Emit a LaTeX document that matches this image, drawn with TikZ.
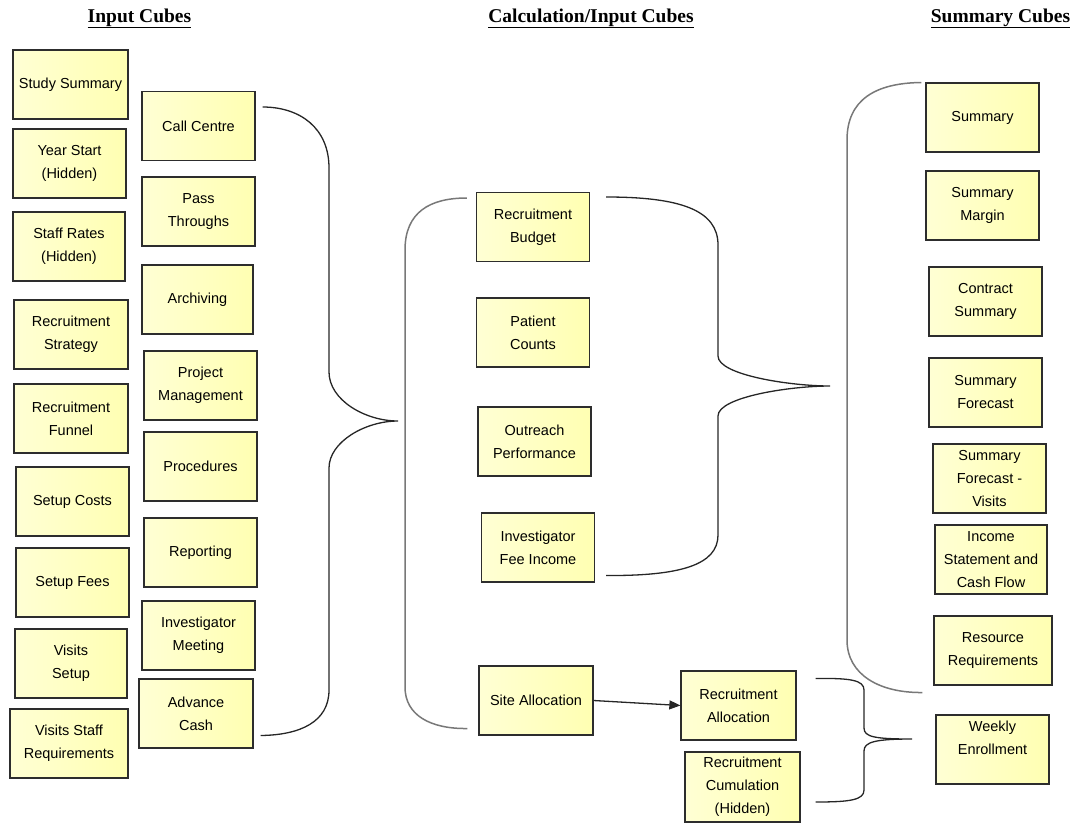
\documentclass[tikz,border=0pt]{standalone}
\usepackage{fontspec}
\setmainfont{Liberation Sans}
\newfontfamily\hdrfont{Liberation Serif}
\usetikzlibrary{arrows.meta,calc}
\definecolor{cubeL}{RGB}{255,255,212}
\definecolor{cubeR}{RGB}{255,255,178}
\definecolor{edge}{RGB}{45,45,45}
\definecolor{brk}{RGB}{120,120,120}
\tikzset{
  cube/.style={draw=edge, line width=1.3pt, left color=cubeL, right color=cubeR,
    minimum width=113pt, minimum height=69pt, inner sep=0pt, align=center,
    font=\fontsize{14.5}{23}\selectfont},
  hdr/.style={anchor=base, font=\hdrfont\bfseries\fontsize{19.5}{22}\selectfont},
  brace/.style={draw=black!85, line width=1.3pt},
  bracket/.style={draw=brk, line width=1.5pt},
  link/.style={draw=black!85, line width=1.3pt, -{Triangle[length=11pt,width=9pt]}}
}
\begin{document}
\begin{tikzpicture}[x=1pt,y=-1pt]
\useasboundingbox (0,0) rectangle (1075,822);
% headers
\node[hdr] (h1) at (139.5,22) {\underline{Input Cubes}};
\node[hdr] (h2) at (591,22) {\underline{Calculation/Input Cubes}};
\node[hdr] (h3) at (1000.5,22) {\underline{Summary Cubes}};
% column 1
\node[cube, minimum width=115pt] (ss) at (70.5,84.5) {Study Summary};
\node[cube] (ys) at (69.5,163.5) {Year Start\\(Hidden)};
\node[cube, minimum width=112pt] (sr) at (69,246.5) {Staff Rates\\(Hidden)};
\node[cube, minimum width=114pt] (rs) at (71,334.5) {Recruitment\\Strategy};
\node[cube, minimum width=114pt] (rf) at (71,418.5) {Recruitment\\Funnel};
\node[cube] (sc) at (72.5,501.5) {Setup Costs};
\node[cube] (sf) at (72.5,582.5) {Setup Fees};
\node[cube, minimum width=112pt] (vs) at (71,663.5) {Visits\\Setup};
\node[cube, minimum width=118pt] (vsr) at (69,743.5) {Visits Staff\\Requirements};
% column 2
\node[cube] (cc) at (198.5,126) {Call Centre};
\node[cube] (pt) at (198.5,211.5) {Pass\\Throughs};
\node[cube, minimum width=111pt] (ar) at (197.5,299.5) {Archiving};
\node[cube] (pm) at (200.5,385.5) {Project\\Management};
\node[cube] (pr) at (200.5,466.5) {Procedures};
\node[cube] (rp) at (200.5,552.5) {Reporting};
\node[cube] (im) at (198.5,635.5) {Investigator\\Meeting};
\node[cube, minimum width=114pt] (ac) at (196,713.5) {Advance\\Cash};
% middle
\node[cube] (rb) at (533,227) {Recruitment\\Budget};
\node[cube] (pc) at (533,332.5) {Patient\\Counts};
\node[cube] (op) at (534.5,441.5) {Outreach\\Performance};
\node[cube] (ifi) at (538,547.5) {Investigator\\Fee Income};
\node[cube, minimum width=114pt] (sa) at (536,700.5) {Site Allocation};
\node[cube, minimum width=115pt] (ra) at (738.5,705.5) {Recruitment\\Allocation};
\node[cube, minimum width=115pt, minimum height=70pt] (rc) at (742.5,787) {Recruitment\\Cumulation\\(Hidden)};
% right
\node[cube] (su) at (982.5,117.5) {Summary};
\node[cube] (sm) at (982.5,205.5) {Summary\\Margin};
\node[cube] (cs) at (985.5,301.5) {Contract\\Summary};
\node[cube] (sfo) at (985.5,392.5) {Summary\\Forecast};
\node[cube] (sfv) at (989.5,478.5) {Summary\\Forecast -\\Visits};
\node[cube, minimum width=112pt] (is) at (991,559.5) {Income\\Statement and\\Cash Flow};
\node[cube, minimum width=118pt] (rr) at (993,650.5) {Resource\\Requirements};
\node[cube] (we) at (992.5,749.5) {Weekly\\Enrollment\\\mbox{}};
% brace coordinates
\coordinate (b1t) at ($(cc.east)+(7,-19)$);
\coordinate (b1m) at (398,421);
\coordinate (b1b) at ($(ac.east)+(7,22)$);
\coordinate (b2t) at ($(rb.west)+(-9,-29)$);
\coordinate (b2b) at ($(sa.west)+(-11,28)$);
\coordinate (b3t) at ($(rb.east)+(16,-30)$);
\coordinate (b3m) at (830,386);
\coordinate (b3b) at ($(ifi.east)+(11,28)$);
\coordinate (b4t) at ($(su.west)+(-4,-35)$);
\coordinate (b4b) at ($(rr.west)+(-11,42)$);
\coordinate (b5t) at ($(ra.east)+(19,-27)$);
\coordinate (b5m) at (912,739);
\coordinate (b5b) at ($(rc.east)+(15,15)$);
% left big brace
\draw[brace] (b1t) .. controls (300,107) and (329,128) .. (329,168) -- (329,372)
  .. controls (329,400) and (365,421) .. (b1m)
  .. controls (365,421) and (329,442) .. (329,468) -- (329,690)
  .. controls (329,722) and (300,735) .. (b1b);
% middle left bracket
\draw[bracket] (b2t) .. controls (430,198) and (405,212) .. (405,250) -- (405,687)
  .. controls (405,715) and (430,729) .. (b2b);
% middle right brace
\draw[brace] (b3t) .. controls (680,197) and (718,210) .. (718,245) -- (718,356)
  .. controls (718,375) and (790,386) .. (b3m)
  .. controls (790,386) and (718,397) .. (718,416) -- (718,535)
  .. controls (718,565) and (680,576) .. (b3b);
% right bracket
\draw[bracket] (b4t) .. controls (875,83) and (847,100) .. (847,140) -- (847,640)
  .. controls (847,675) and (880,693) .. (b4b);
% bottom brace
\draw[brace] (b5t) .. controls (850,678) and (864,680) .. (864,690) -- (864,728)
  .. controls (864,737) and (875,739) .. (b5m)
  .. controls (875,739) and (864,742) .. (864,751) -- (864,790)
  .. controls (864,800) and (850,802) .. (b5b);
% arrow
\draw[link] (sa.east) -- (ra.west);
\end{tikzpicture}
\end{document}
